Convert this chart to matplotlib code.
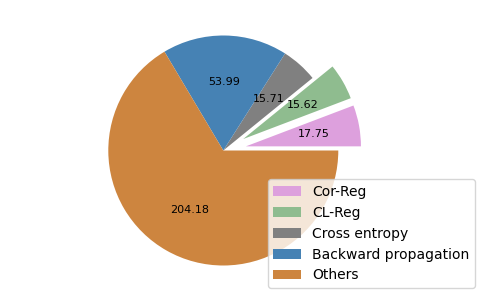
import matplotlib
matplotlib.use('Agg')
import matplotlib.pyplot as plt

# time cost per component
labels = ['Cor-Reg', 'CL-Reg', 'Cross entropy', 'Backward propagation', 'Others']
values = [17.75, 15.62, 15.71, 53.99, 204.18]
colors = ['plum', 'darkseagreen', 'gray', 'steelblue', 'peru']
explode = [0.2, 0.2, 0, 0, 0]

total = sum(values)

fig = plt.figure(figsize=(4.82, 3.02), dpi=100)
ax = fig.add_axes([0, 0, 1, 1])

wedges, texts, autotexts = ax.pie(values, colors=colors, explode=explode,
                                  autopct=lambda p: '{:.2f}'.format(p * total / 100),
                                  textprops={'fontsize': 8})

# place the pie like in the original (center ~ (223, 150) px, radius ~115 px)
r = 115.0
cx, cy = 223.3, 150.5
ax.set_xlim(-cx / r, (482 - cx) / r)
ax.set_ylim(-(302 - cy) / r, cy / r)

fig.legend(wedges, labels, loc='lower right', bbox_to_anchor=(475 / 482, 14 / 302),
           borderaxespad=0)

fig.savefig('out.png', dpi=100)
